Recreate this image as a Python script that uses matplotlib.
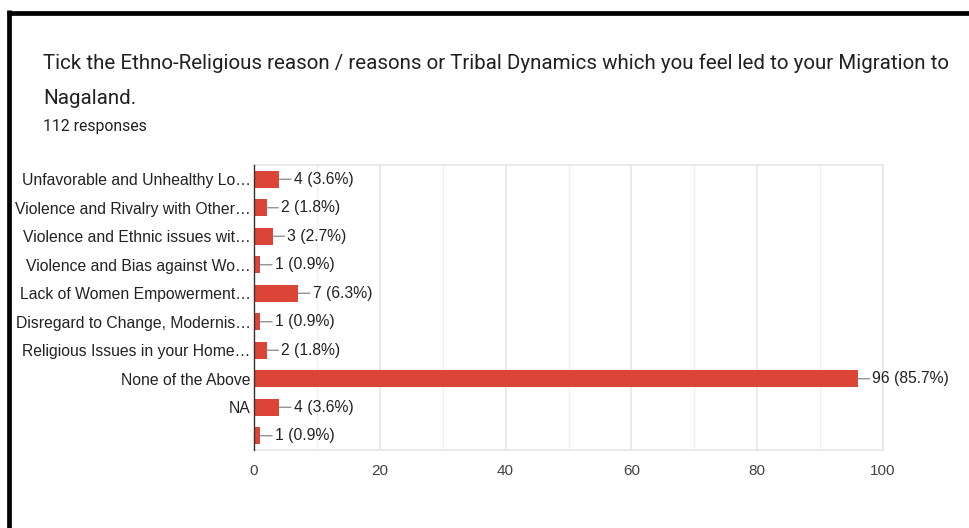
import matplotlib.pyplot as plt
from matplotlib.lines import Line2D
from matplotlib.ticker import MultipleLocator

# answers and counts
categories = [
    'Unfavorable and Unhealthy Lo…',
    'Violence and Rivalry with Other…',
    'Violence and Ethnic issues wit…',
    'Violence and Bias against Wo…',
    'Lack of Women Empowerment…',
    'Disregard to Change, Modernis…',
    'Religious Issues in your Home…',
    'None of the Above',
    'NA',
    '',
]
counts = [4, 2, 3, 1, 7, 1, 2, 96, 4, 1]
percents = [3.6, 1.8, 2.7, 0.9, 6.3, 0.9, 1.8, 85.7, 3.6, 0.9]
x_ticks = [0, 20, 40, 60, 80, 100]

title_lines = ['Tick the Ethno-Religious reason / reasons or Tribal Dynamics which you feel led to your Migration to',
               'Nagaland.']
subtitle = '112 responses'

W, H = 970, 528
fig = plt.figure(figsize=(W / 100, H / 100), dpi=100)
fig.patch.set_facecolor('white')

# frame around the card (top and left edges)
fig.add_artist(Line2D([7 / W, 1], [1 - 12.5 / H, 1 - 12.5 / H], color='black', lw=3.4,
                      solid_capstyle='butt'))
fig.add_artist(Line2D([9.5 / W, 9.5 / W], [0, 1 - 10.2 / H], color='black', lw=3.4,
                      solid_capstyle='butt'))

for line, ypx in zip(title_lines, [63, 98]):
    fig.text(43 / W, 1 - ypx / H, line, fontfamily='Roboto', fontsize=14.75, color='#202124',
             va='center', ha='left')
fig.text(43 / W, 1 - 126 / H, subtitle, fontfamily='Roboto', fontsize=11.3, color='#202124',
         va='center', ha='left')

ax = fig.add_axes([254 / W, 1 - 450 / H, (883 - 254) / W, (450 - 165) / H])
y = list(range(len(categories)))
ax.barh(y, counts, height=0.6, color='#dc4437', zorder=3)
ax.set_xlim(0, 100)
ax.set_ylim(len(categories) - 0.5, -0.5)

ax.set_yticks(y)
ax.set_yticklabels(categories, fontfamily='Liberation Sans', fontsize=11.3, color='#222222')
ax.set_xticks(x_ticks)
ax.set_xticklabels([str(t) for t in x_ticks], fontfamily='Liberation Sans', fontsize=11, color='#444444')
ax.xaxis.set_minor_locator(MultipleLocator(10))
ax.tick_params(axis='both', which='both', length=0)
ax.tick_params(axis='y', pad=2.5)
ax.tick_params(axis='x', pad=10)

ax.grid(axis='x', which='major', color='#e6e6e6', lw=1.2, zorder=0)
ax.grid(axis='x', which='minor', color='#f0f0f0', lw=1.0, zorder=0)
for side in ['top', 'right', 'bottom']:
    ax.spines[side].set_color('#e6e6e6')
    ax.spines[side].set_linewidth(1.2)
ax.spines['left'].set_color('#333333')
ax.spines['left'].set_linewidth(1.0)
ax.spines['left'].set_zorder(4)

# value labels with short leader lines
for yi, c, p in zip(y, counts, percents):
    ax.annotate(f'{c} ({p}%)', xy=(c, yi), xytext=(10.5, 0), textcoords='offset points',
                ha='left', va='center', fontfamily='Liberation Sans', fontsize=11.3, color='#222222',
                arrowprops=dict(arrowstyle='-', color='#888888', lw=0.9, shrinkA=0, shrinkB=0))

fig.savefig('out.png', dpi=100, facecolor='white')
